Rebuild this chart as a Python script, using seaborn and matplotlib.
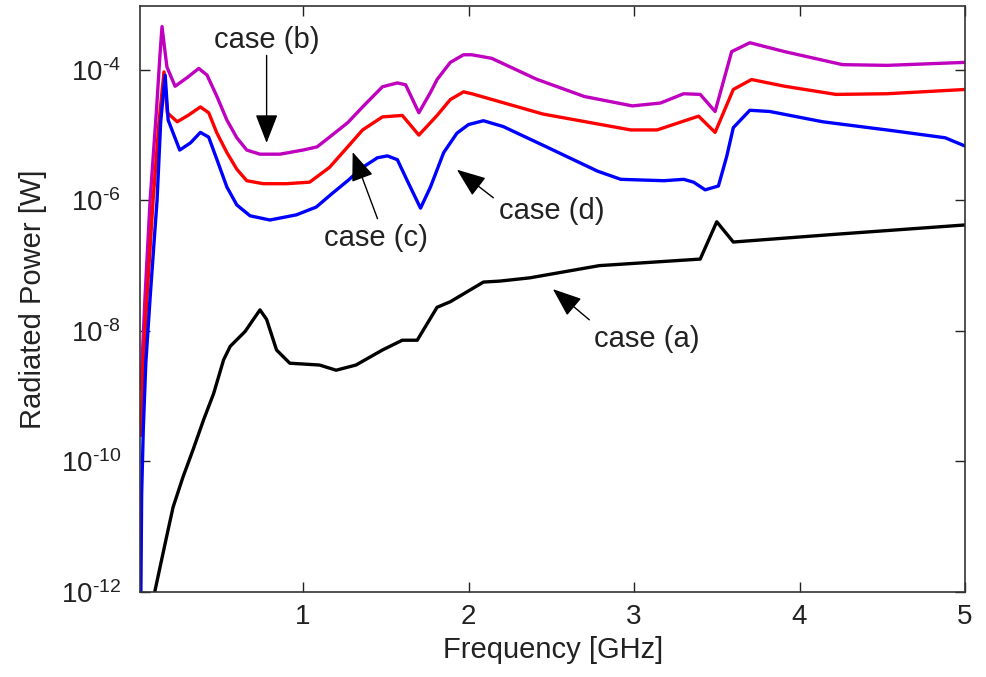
import numpy as np
import pandas as pd
import matplotlib
matplotlib.use("Agg")
import matplotlib.pyplot as plt
import seaborn as sns

# ---- data: radiated power [W] versus frequency [GHz] ----
freq_a = [0.10, 0.136, 0.18, 0.215, 0.275, 0.335, 0.40, 0.46, 0.52, 0.56,
          0.65, 0.70, 0.74, 0.78, 0.84, 0.92, 1.10, 1.20, 1.32, 1.48, 1.60,
          1.69, 1.81, 1.89, 2.09, 2.19, 2.37, 2.79, 3.40, 3.50, 3.60, 4.20,
          5.00]
power_a = [9.0e-13, 2.4e-12, 7.9e-12, 2.0e-11, 5.8e-11, 1.5e-10, 4.4e-10,
           1.1e-9, 3.6e-9, 5.8e-9, 9.8e-9, 1.5e-8, 2.1e-8, 1.5e-8, 5.1e-9,
           3.2e-9, 3.0e-9, 2.5e-9, 3.0e-9, 5.1e-9, 7.2e-9, 7.2e-9, 2.3e-8,
           2.8e-8, 5.6e-8, 5.8e-8, 6.5e-8, 1.0e-7, 1.26e-7, 4.7e-7, 2.3e-7,
           3.0e-7, 4.2e-7]

freq_b = [0.02, 0.045, 0.076, 0.115, 0.135, 0.148, 0.165, 0.178, 0.227, 0.30,
          0.37, 0.42, 0.48, 0.54, 0.60, 0.66, 0.74, 0.86, 1.00, 1.085, 1.16,
          1.27, 1.36, 1.48, 1.57, 1.62, 1.70, 1.77, 1.81, 1.89, 1.97, 2.02,
          2.14, 2.41, 2.70, 2.99, 3.16, 3.30, 3.40, 3.49, 3.59, 3.70, 3.91,
          4.26, 4.53, 5.00]
power_b = [1.3e-9, 3.2e-8, 1.0e-6, 2.5e-5, 1.6e-4, 4.6e-4, 2.0e-4, 1.1e-4,
           5.6e-5, 7.6e-5, 1.05e-4, 8.3e-5, 3.9e-5, 1.7e-5, 9.1e-6, 5.9e-6,
           5.1e-6, 5.1e-6, 5.9e-6, 6.6e-6, 9.3e-6, 1.55e-5, 2.7e-5, 5.5e-5,
           6.3e-5, 5.9e-5, 2.2e-5, 4.5e-5, 7.1e-5, 1.3e-4, 1.7e-4, 1.7e-4,
           1.5e-4, 7.2e-5, 3.9e-5, 2.8e-5, 3.1e-5, 4.3e-5, 4.2e-5, 2.3e-5,
           1.9e-4, 2.6e-4, 1.9e-4, 1.2e-4, 1.17e-4, 1.3e-4]

freq_c = [0.02, 0.035, 0.057, 0.094, 0.13, 0.16, 0.18, 0.24, 0.305, 0.38,
          0.43, 0.48, 0.54, 0.60, 0.66, 0.76, 0.90, 1.04, 1.16, 1.27, 1.36,
          1.48, 1.60, 1.70, 1.81, 1.89, 1.97, 2.02, 2.45, 2.98, 3.14, 3.39,
          3.49, 3.60, 3.71, 3.91, 4.22, 4.53, 5.00]
power_c = [2.5e-10, 3.2e-9, 3.2e-8, 1.0e-6, 1.6e-5, 9.3e-5, 2.2e-5, 1.6e-5,
           2.0e-5, 2.7e-5, 2.2e-5, 1.07e-5, 5.4e-6, 3.0e-6, 2.0e-6, 1.8e-6,
           1.8e-6, 1.9e-6, 3.2e-6, 6.6e-6, 1.2e-5, 1.9e-5, 2.0e-5, 1.0e-5,
           2.0e-5, 3.5e-5, 4.6e-5, 4.3e-5, 2.1e-5, 1.2e-5, 1.2e-5, 1.95e-5,
           1.1e-5, 5.0e-5, 7.1e-5, 5.6e-5, 4.2e-5, 4.3e-5, 5.0e-5]

freq_d = [0.02, 0.025, 0.035, 0.05, 0.076, 0.118, 0.14, 0.167, 0.185, 0.255,
          0.32, 0.38, 0.43, 0.48, 0.54, 0.60, 0.68, 0.80, 0.96, 1.08, 1.18,
          1.27, 1.36, 1.45, 1.51, 1.57, 1.63, 1.71, 1.77, 1.85, 1.93, 2.00,
          2.09, 2.21, 2.46, 2.78, 2.92, 3.18, 3.30, 3.36, 3.43, 3.51, 3.56,
          3.60, 3.70, 3.82, 4.14, 4.56, 4.88, 5.00]
power_d = [8.0e-13, 3.2e-11, 3.2e-10, 3.2e-9, 3.2e-8, 1.0e-6, 1.6e-5, 8.3e-5,
           1.7e-5, 5.9e-6, 7.6e-6, 1.1e-5, 9.3e-6, 4.2e-6, 1.6e-6, 8.5e-7,
           5.8e-7, 5.0e-7, 6.0e-7, 7.9e-7, 1.3e-6, 2.0e-6, 3.2e-6, 4.5e-6,
           4.8e-6, 4.2e-6, 2.0e-6, 7.6e-7, 1.6e-6, 5.4e-6, 1.07e-5, 1.45e-5,
           1.66e-5, 1.35e-5, 6.8e-6, 2.8e-6, 2.1e-6, 2.0e-6, 2.1e-6, 1.9e-6,
           1.45e-6, 1.66e-6, 4.7e-6, 1.3e-5, 2.4e-5, 2.3e-5, 1.6e-5, 1.17e-5,
           9.1e-6, 6.8e-6]

x_ticks = [1, 2, 3, 4, 5]
y_ticks = [1e-12, 1e-10, 1e-8, 1e-6, 1e-4]

# label text, text anchor (x, P), arrow tail (x, P), arrow head (x, P)
notes = [
    ("case (b)", (0.78, 10**-3.55), (0.78, 10**-3.78), (0.78, 10**-5.12)),
    ("case (c)", (1.44, 10**-6.58), (1.45, 10**-6.28), (1.30, 10**-5.26)),
    ("case (d)", (2.50, 10**-6.17), (2.15, 10**-5.96), (1.93, 10**-5.53)),
    ("case (a)", (3.08, 10**-8.12), (2.73, 10**-7.83), (2.51, 10**-7.36)),
]

series = [
    ("case (a)", freq_a, power_a, "#000000"),
    ("case (b)", freq_b, power_b, "#BF00BF"),
    ("case (c)", freq_c, power_c, "#FF0000"),
    ("case (d)", freq_d, power_d, "#0000FF"),
]

sns.set_theme(style="ticks")
plt.rcParams["font.family"] = ["Liberation Sans", "DejaVu Sans"]
plt.rcParams["mathtext.fontset"] = "custom"
plt.rcParams["mathtext.rm"] = "Liberation Sans"
plt.rcParams["mathtext.it"] = "Liberation Sans:italic"
plt.rcParams["mathtext.bf"] = "Liberation Sans:bold"

fig = plt.figure(figsize=(9.87, 6.77), dpi=100)
ax = fig.add_axes([140.5 / 987, 85 / 677, (965 - 140.5) / 987, (671 - 85) / 677])

for name, fx, fy, col in series:
    df = pd.DataFrame({"Frequency": fx, "Power": fy})
    sns.lineplot(data=df, x="Frequency", y="Power", ax=ax, color=col,
                 linewidth=2.4, estimator=None, sort=False, legend=False)

ax.set_yscale("log")
ax.set_xlim(0.018, 5)
ax.set_ylim(1e-12, 9.5e-4)
ax.set_xticks(x_ticks)
ax.set_xticklabels([str(t) for t in x_ticks])
ax.set_yticks(y_ticks)
ax.set_yticklabels([r"$10^{\text{%d}}$" % int(round(np.log10(v))) for v in y_ticks])
ax.minorticks_off()
ax.tick_params(axis="both", which="major", direction="in", length=7, width=1,
               top=True, right=True, labelsize=20, colors="#222222")
ax.tick_params(axis="y", pad=14)
ax.tick_params(axis="x", pad=9)
for sp in ax.spines.values():
    sp.set_visible(True)
    sp.set_color("#333333")
    sp.set_linewidth(1.2)

ax.set_xlabel("Frequency [GHz]", fontsize=21, color="#222222", labelpad=4)
ax.set_ylabel("Radiated Power [W]", fontsize=21, color="#222222", labelpad=10)

for label, txt_pos, tail, head in notes:
    ax.text(txt_pos[0], txt_pos[1], label, fontsize=21, color="#222222",
            ha="center", va="center")
    ax.annotate("", xy=head, xytext=tail,
                arrowprops=dict(arrowstyle="-|>,head_length=0.9,head_width=0.35",
                                mutation_scale=20, color="black", lw=1,
                                shrinkA=0, shrinkB=0))

fig.savefig("out.png", dpi=100, facecolor="white")
